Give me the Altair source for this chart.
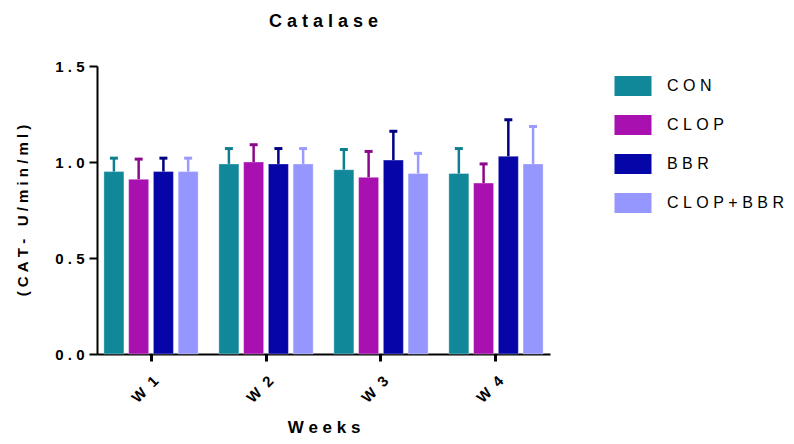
import altair as alt
import pandas as pd

NB = "\u00a0"

weeks = ["W1", "W2", "W3", "W4"]
groups = ["CON", "CLOP", "BBR", "CLOP+BBR"]
means = {
    "CON":      [0.95, 0.99, 0.96, 0.94],
    "CLOP":     [0.91, 1.00, 0.92, 0.89],
    "BBR":      [0.95, 0.99, 1.01, 1.03],
    "CLOP+BBR": [0.95, 0.99, 0.94, 0.99],
}
errors = {
    "CON":      [0.07, 0.08, 0.105, 0.13],
    "CLOP":     [0.105, 0.09, 0.135, 0.10],
    "BBR":      [0.07, 0.08, 0.15, 0.19],
    "CLOP+BBR": [0.07, 0.08, 0.105, 0.195],
}
fill_colors = ["#11879A", "#A810B0", "#0505A8", "#9696FF"]
err_colors = ["#0E7F8E", "#8B0A8B", "#000080", "#9A9AFF"]

rows = []
for g in groups:
    for i, w in enumerate(weeks):
        m = means[g][i]
        rows.append({"week": w, "group": g, "mean": m, "top": m + errors[g][i]})
df = pd.DataFrame(rows)

spaced = "join(split({}, ''), '" + NB + "')"
spaced2 = "join(split({}, ''), '" + NB + NB + "')"

x = alt.X(
    "week:N",
    sort=weeks,
    scale=alt.Scale(paddingInner=0.18, paddingOuter=0.06),
    axis=alt.Axis(
        title=NB.join("Weeks"),
        labelAngle=-45,
        labelExpr=spaced2.format("datum.label"),
        labelFont="Liberation Sans",
        labelFontWeight="bold",
        labelFontSize=15,
        labelColor="black",
        labelPadding=12,
        titleFont="Liberation Sans",
        titleFontWeight="bold",
        titleFontSize=17,
        titleColor="black",
        titlePadding=14,
        domainColor="black",
        domainWidth=2,
        tickColor="black",
        tickWidth=3,
        tickSize=7,
    ),
)
xoff = alt.XOffset("group:N", sort=groups, scale=alt.Scale(paddingInner=0.19, paddingOuter=0))
y_scale = alt.Scale(domain=[0, 1.5], nice=False)

base = alt.Chart(df)

bars = base.mark_bar(stroke="white", strokeOpacity=0.35, strokeWidth=1).encode(
    x=x,
    xOffset=xoff,
    y=alt.Y(
        "mean:Q",
        scale=y_scale,
        axis=alt.Axis(
            title=NB.join("(CAT- U/min/ml)"),
            values=[0, 0.5, 1.0, 1.5],
            labelExpr=spaced.format("format(datum.value, '.1f')"),
            labelFont="Liberation Sans",
            labelFontWeight="bold",
            labelFontSize=15,
            labelColor="black",
            labelPadding=5,
            titleFont="Liberation Sans",
            titleFontWeight="bold",
            titleFontSize=15,
            titleColor="black",
            titlePadding=24,
            domainColor="black",
            domainWidth=2,
            tickColor="black",
            tickWidth=2,
            tickSize=8,
            grid=False,
        ),
    ),
    color=alt.Color(
        "group:N",
        sort=groups,
        scale=alt.Scale(domain=groups, range=fill_colors),
        legend=alt.Legend(
            title=None,
            orient="none",
            legendX=526,
            legendY=10,
            symbolType="M-1.85,-1H1.85V1H-1.85Z",
            symbolSize=400,
            symbolStrokeWidth=0,
            symbolOpacity=1,
            labelExpr=spaced.format("datum.label"),
            labelFont="Liberation Sans",
            labelFontSize=16,
            labelColor="black",
            labelOffset=24,
            labelLimit=400,
            rowPadding=19,
            padding=0,
        ),
    ),
)

rules = base.mark_rule(strokeWidth=2.5).encode(
    x=x,
    xOffset=xoff,
    y=alt.Y("mean:Q", scale=y_scale),
    y2="top:Q",
    stroke=alt.Stroke("group:N", sort=groups,
                      scale=alt.Scale(domain=groups, range=err_colors), legend=None),
)

caps = base.mark_tick(size=8, thickness=3, orient="horizontal", opacity=1).encode(
    x=x,
    xOffset=xoff,
    y=alt.Y("top:Q", scale=y_scale),
    fill=alt.Fill("group:N", sort=groups,
                  scale=alt.Scale(domain=groups, range=err_colors), legend=None),
)

chart = (
    alt.layer(bars, rules, caps)
    .properties(
        width=453,
        height=288,
        autosize=alt.AutoSizeParams(type="none"),
        padding={"left": 89, "top": 58, "right": 236, "bottom": 82},
        title=alt.TitleParams(
            text=NB.join("Catalase"),
            font="Liberation Sans",
            fontWeight="bold",
            fontSize=18,
            color="black",
            offset=28,
            anchor="middle",
        ),
    )
    .configure_view(stroke=None)
)

chart.save("out.html", embed_options={"renderer": "svg", "actions": False})
